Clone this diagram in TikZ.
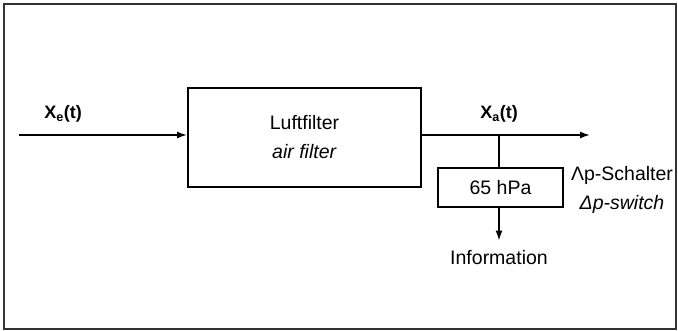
\documentclass[tikz,border=0pt]{standalone}
\usepackage{fontspec}
\setmainfont{Liberation Sans}
\usetikzlibrary{positioning,arrows.meta,calc}
\definecolor{framegray}{HTML}{333333}

\begin{document}
\begin{tikzpicture}[x=1pt, y=1pt,
    txt/.style={font=\fontsize{19.5}{29}\selectfont, align=center},
    lbl/.style={font=\fontsize{18}{22}\selectfont\bfseries},
    blockbox/.style={draw, line width=2pt, inner sep=0pt},
    flow/.style={line width=1.6pt, -{Latex[length=10pt,width=7pt]}}]
    \useasboundingbox (0,0) rectangle (678,331);
    \draw[framegray, line width=1.5pt] (4,2) rectangle (676,327);
    % blocks
    \node[blockbox, txt, minimum width=233, minimum height=99] (filter) at (304.5,193.5) {Luftfilter\\\textit{air filter}};
    \node[blockbox, txt, minimum width=125, minimum height=39] (switch) at (500.5,143.5) {65 hPa};
    \node[txt, inner sep=1pt] (info) at (499,73) {Information};
    \node[txt] (dp) at (622,141.5) {Λp-Schalter\\\textit{Δp-switch}};
    % signals
    \coordinate (in) at (19,196);
    \coordinate (out) at (590,196);
    \coordinate (tap) at (499,196);
    \node[lbl] (xe) at (63,217) {X\textsubscript{e}(t)};
    \node[lbl] (xa) at (499,217) {X\textsubscript{a}(t)};
    \draw[flow] (in) -- (in -| filter.west);
    \draw[flow] (in -| filter.east) -- (out);
    \draw[line width=1.6pt] (tap) -- (tap |- switch.north);
    \draw[flow, shorten >=9pt] (tap |- switch.south) -- (info.north);
\end{tikzpicture}
\end{document}
